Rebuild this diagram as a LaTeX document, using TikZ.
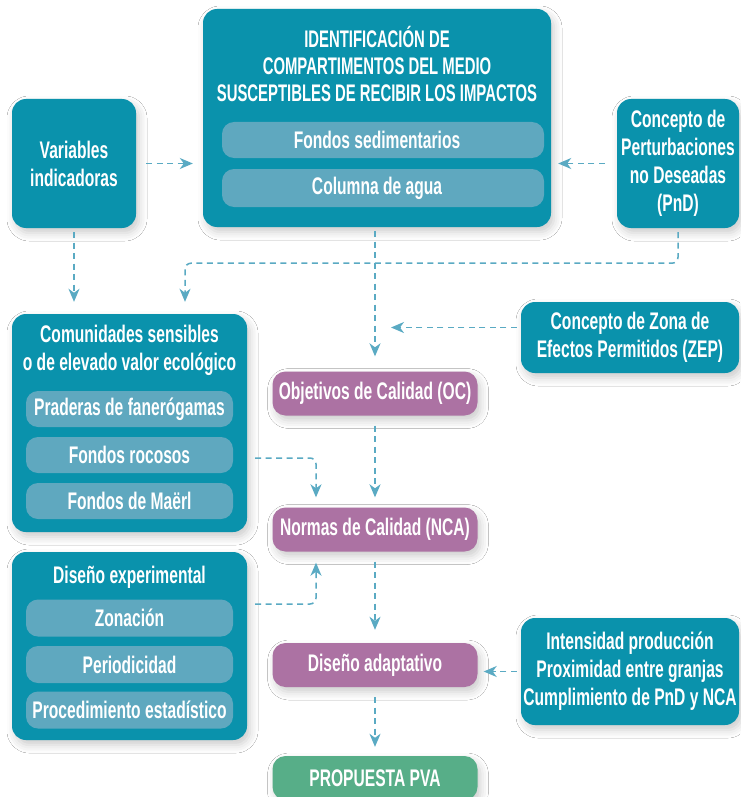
\documentclass[tikz,border=0pt]{standalone}
\usepackage{fontspec}
\setmainfont{Liberation Sans}[FakeStretch=0.65]
\newfontfamily\headfont{Liberation Sans}[FakeStretch=0.62]
\usetikzlibrary{arrows.meta,shadows.blur}

\definecolor{tealbox}{HTML}{0A92AC}
\definecolor{tealbar}{HTML}{5FA8BF}
\definecolor{plum}{HTML}{AC72A3}
\definecolor{leaf}{HTML}{57AE88}
\definecolor{linkc}{HTML}{5AAAC3}

\tikzset{
  txt/.style={text=white, font=\fontsize{24}{28}\selectfont\bfseries, align=center, inner sep=0pt},
  headtxt/.style={txt, font=\headfont\fontsize{24}{27}\selectfont\bfseries},
  shade/.style={blur shadow={shadow xshift=3pt, shadow yshift=-5pt, shadow blur radius=8pt, shadow opacity=20}},
  panel/.style={txt, fill=tealbox, rounded corners=14pt, shade},
  subbar/.style={txt, fill=tealbar, rounded corners=12pt},
  stage/.style={txt, fill=plum, rounded corners=13pt, minimum width=205pt, minimum height=44pt, shade},
  final/.style={txt, fill=leaf, rounded corners=13pt, minimum width=205pt, minimum height=44pt, shade},
  conn/.style={draw=linkc, line width=1.5pt, dash pattern=on 6pt off 4.5pt,
    -{Stealth[length=13pt, width=11pt, inset=4pt]}, rounded corners=6pt},
}

\begin{document}
\begin{tikzpicture}[x=1pt, y=-1pt]
\useasboundingbox (0,0) rectangle (740,797);
\fill[white] (0,0) rectangle (740,797);

% compartments of the environment
\node[panel, minimum width=348pt, minimum height=218pt] (top) at (377,118) {};
\node[headtxt] (toptitle) at (377,64) {IDENTIFICACIÓN DE\\COMPARTIMENTOS DEL MEDIO\\SUSCEPTIBLES DE RECIBIR LOS IMPACTOS};
\node[subbar, minimum width=322pt, minimum height=36pt] (fs) at (383,140) {};
\node[txt] (fstext) at (377,140) {Fondos sedimentarios};
\node[subbar, minimum width=322pt, minimum height=38pt] (ca) at (383,188) {};
\node[txt] (catext) at (377,188) {Columna de agua};

% side inputs
\node[panel, minimum width=124pt, minimum height=129pt] (var) at (74,163.5) {Variables\\indicadoras};
\node[panel, minimum width=122pt, minimum height=129pt] (pnd) at (678,163.5) {Concepto de\\Perturbaciones\\no Deseadas\\(PnD)};
\node[panel, minimum width=218pt, minimum height=71pt] (zep) at (630,337.5) {Concepto de Zona de\\Efectos Permitidos (ZEP)};
\node[panel, minimum width=218pt, minimum height=107pt] (inten) at (630,671.5) {Intensidad producción\\Proximidad entre granjas\\Cumplimiento de PnD y NCA};

% sensitive communities
\node[panel, minimum width=235pt, minimum height=218pt] (com) at (129.5,423) {};
\node[txt] (comtitle) at (129.5,350) {Comunidades sensibles\\o de elevado valor ecológico};
\node[subbar, minimum width=207pt, minimum height=36pt] (b1) at (129.5,409) {Praderas de fanerógamas};
\node[subbar, minimum width=207pt, minimum height=36pt] (b2) at (129.5,455) {Fondos rocosos};
\node[subbar, minimum width=207pt, minimum height=36pt] (b3) at (129.5,501) {Fondos de Maërl};

% experimental design
\node[panel, minimum width=235pt, minimum height=188pt] (dexp) at (129.5,646) {};
\node[txt] (dexptitle) at (129.5,577) {Diseño experimental};
\node[subbar, minimum width=207pt, minimum height=37pt] (z1) at (129.5,618) {Zonación};
\node[subbar, minimum width=207pt, minimum height=37pt] (z2) at (129.5,664.5) {Periodicidad};
\node[subbar, minimum width=207pt, minimum height=37pt] (z3) at (129.5,710) {Procedimiento estadístico};

% main sequence
\node[stage] (oc) at (375,393.5) {Objetivos de Calidad (OC)};
\node[stage] (nca) at (375,529.5) {Normas de Calidad (NCA)};
\node[stage] (dad) at (375,665) {Diseño adaptativo};
\node[final] (pva) at (375,778) {PROPUESTA PVA};

% connectors
\draw[conn, shorten <=10pt, shorten >=10pt] (var.east) -- (var.east -| top.west);
\draw[conn, shorten <=12pt, shorten >=7pt] (pnd.west) -- (pnd.west -| top.east);
\draw[conn, shorten <=4pt, shorten >=12pt] (var.south) -- (var.south |- com.north);
\draw[conn, shorten <=4pt, shorten >=12pt] (pnd.south) -- ++(0,35) -| ([xshift=55.5pt]com.north);
\draw[conn, shorten <=4pt, shorten >=15pt] (top.south -| oc.north) -- (oc.north);
\draw[conn, shorten <=4pt, shorten >=16pt] ([yshift=10pt]zep.west) -- ([yshift=10pt]zep.west -| oc.north);
\draw[conn, shorten <=10pt, shorten >=10pt] (oc.south) -- (nca.north);
\draw[conn, shorten >=10pt] ([xshift=8pt,yshift=-3pt]com.east |- b2.east) -| ([xshift=-59pt]nca.north);
\draw[conn, shorten >=11pt] ([xshift=8pt,yshift=42pt]dexp.east) -| ([xshift=-59pt]nca.south);
\draw[conn, shorten <=10pt, shorten >=13pt] (nca.south) -- (dad.north);
\draw[conn, shorten <=4pt, shorten >=6pt] (inten.west) -- (inten.west -| dad.east);
\draw[conn, shorten <=10pt, shorten >=9pt] (dad.south) -- (pva.north);
\end{tikzpicture}
\end{document}
